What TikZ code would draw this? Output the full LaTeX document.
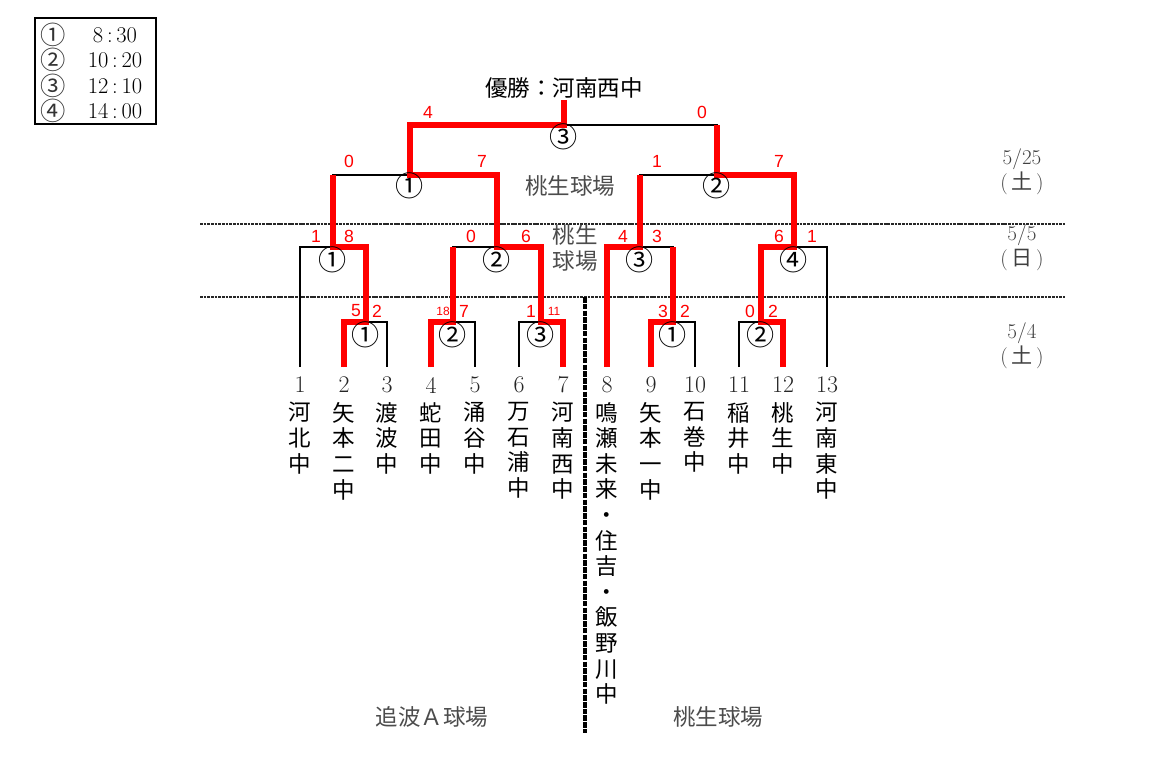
\documentclass[tikz,border=0pt]{standalone}
\usepackage{fontspec}
\newfontfamily\jpfont{Noto Sans CJK JP}
\newfontfamily\scorefont{Liberation Sans}
\usetikzlibrary{calc}

\tikzset{
  lose/.style={line width=2pt, black},
  win/.style={line width=3.6pt, red},
  dayline/.style={line width=1.6pt, dash pattern=on 2pt off 0.6pt, black!85},
  fieldline/.style={line width=2.4pt, dash pattern=on 4pt off 0.8pt},
}

\begin{document}
\begin{tikzpicture}[x=0.025cm, y=-0.025cm,
  team/.style={font=\jpfont\fontsize{16}{18.2}\selectfont, align=center, anchor=north, inner sep=0pt},
  num/.style={font=\fontsize{17}{17}\selectfont, inner sep=0pt, text=black!85},
  rnd/.style={font=\jpfont\fontsize{20}{20}\selectfont, inner sep=0pt},
  score/.style={font=\scorefont\fontsize{12.5}{13}\selectfont, text=red, inner sep=0pt},
  small score/.style={score, font=\scorefont\fontsize{8.5}{9}\selectfont},
  venue/.style={font=\jpfont\fontsize{16}{18}\selectfont, text=black!70, inner sep=0pt, align=center},
  date/.style={font=\fontsize{15}{17.8}\selectfont, text=black!75, inner sep=0pt, align=center},
  legend/.style={font=\fontsize{16}{16}\selectfont, inner sep=0pt},
]
  \useasboundingbox (0,0) rectangle (1161,777);

  % legend
  \draw[line width=0.8pt] (35,18) rectangle (156,124);
  \node[legend, font=\jpfont\fontsize{18}{18}\selectfont, text=black!80] (lg1) at (53,35) {①};
  \node[legend, font=\jpfont\fontsize{18}{18}\selectfont, text=black!80] (lg2) at (53,60) {②};
  \node[legend, font=\jpfont\fontsize{18}{18}\selectfont, text=black!80] (lg3) at (53,86) {③};
  \node[legend, font=\jpfont\fontsize{18}{18}\selectfont, text=black!80] (lg4) at (53,111) {④};
  \node[legend] (tm1) at (115,35) {8\,:\,30};
  \node[legend] (tm2) at (115,60) {10\,:\,20};
  \node[legend] (tm3) at (115,86) {12\,:\,10};
  \node[legend] (tm4) at (115,111) {14\,:\,00};

  % day separators
  \draw[dayline] (200,224) -- (1065,224);
  \draw[dayline] (200,297) -- (1065,297);
  \draw[fieldline] (585,297) -- (585,733);

  % leaves
  \coordinate (t1) at (300,367);
  \coordinate (t2) at (344,367);
  \coordinate (t3) at (387,367);
  \coordinate (t4) at (431,367);
  \coordinate (t5) at (475,367);
  \coordinate (t6) at (519,367);
  \coordinate (t7) at (563,367);
  \coordinate (t8) at (607,367);
  \coordinate (t9) at (651,367);
  \coordinate (t10) at (695,367);
  \coordinate (t11) at (739,367);
  \coordinate (t12) at (783,367);
  \coordinate (t13) at (827,367);
  % junctions
  \coordinate (a1) at (366,322);
  \coordinate (a2) at (453,322);
  \coordinate (a3) at (541,322);
  \coordinate (b1) at (673,322);
  \coordinate (b2) at (761,322);
  \coordinate (c1) at (333,247);
  \coordinate (c2) at (497,247);
  \coordinate (c3) at (640,247);
  \coordinate (c4) at (794,247);
  \coordinate (d1) at (410,175);
  \coordinate (d2) at (717,175);
  \coordinate (f) at (564,125);
  \coordinate (champ) at (564,100);

  % bracket
  \draw[lose] (t2) |- (a1) -| (t3);
  \draw[lose] (t4) |- (a2) -| (t5);
  \draw[lose] (t6) |- (a3) -| (t7);
  \draw[lose] (t9) |- (b1) -| (t10);
  \draw[lose] (t11) |- (b2) -| (t12);
  \draw[lose] (t1) |- (c1) -| (a1);
  \draw[lose] (a2) |- (c2) -| (a3);
  \draw[lose] (t8) |- (c3) -| (b1);
  \draw[lose] (b2) |- (c4) -| (t13);
  \draw[lose] (c1) |- (d1) -| (c2);
  \draw[lose] (c3) |- (d2) -| (c4);
  \draw[lose] (d1) |- (f) -| (d2);

  % winners
  \draw[win] (t2) |- (a1) -- (a1 |- c1);
  \draw[win] (t4) |- (a2) -- (a2 |- c2);
  \draw[win] (t7) |- (a3) -- (a3 |- c2);
  \draw[win] (t9) |- (b1) -- (b1 |- c3);
  \draw[win] (t12) |- (b2) -- (b2 |- c4);
  \draw[win] (a1) |- (c1) -- (c1 |- d1);
  \draw[win] (a3) |- (c2) -- (c2 |- d1);
  \draw[win] (t8) |- (c3) -- (c3 |- d2);
  \draw[win] (b2) |- (c4) -- (c4 |- d2);
  \draw[win] (c2) |- (d1) -- (d1 |- f);
  \draw[win] (c4) |- (d2) -- (d2 |- f);
  \draw[win] (d1) |- (f) -- (champ);

  % game numbers
  \node[rnd] (ra1) at ($(a1)+(0,13)$) {①};
  \node[rnd] (ra2) at ($(a2)+(0,13)$) {②};
  \node[rnd] (ra3) at ($(a3)+(0,13)$) {③};
  \node[rnd] (rb1) at ($(b1)+(0,13)$) {①};
  \node[rnd] (rb2) at ($(b2)+(0,13)$) {②};
  \node[rnd] (rc1) at ($(c1)+(0,13)$) {①};
  \node[rnd] (rc2) at ($(c2)+(0,13)$) {②};
  \node[rnd] (rc3) at ($(c3)+(0,13)$) {③};
  \node[rnd] (rc4) at ($(c4)+(0,13)$) {④};
  \node[rnd] (rd1) at ($(d1)+(0,11)$) {①};
  \node[rnd] (rd2) at ($(d2)+(0,11)$) {②};
  \node[rnd] (rf) at ($(f)+(0,12)$) {③};

  % scores
  \node[score] (sfl) at (428,112) {4};
  \node[score] (sfr) at (702,112) {0};
  \node[score] (sd1l) at (349,161) {0};
  \node[score] (sd1r) at (482,161) {7};
  \node[score] (sd2l) at (657,161) {1};
  \node[score] (sd2r) at (779,161) {7};
  \node[score] (sc1l) at (316,236) {1};
  \node[score] (sc1r) at (349,236) {8};
  \node[score] (sc2l) at (471,236) {0};
  \node[score] (sc2r) at (526,236) {6};
  \node[score] (sc3l) at (623,236) {4};
  \node[score] (sc3r) at (657,236) {3};
  \node[score] (sc4l) at (779,236) {6};
  \node[score] (sc4r) at (812,236) {1};
  \node[score] (sa1l) at (356,311) {5};
  \node[score] (sa1r) at (377,311) {2};
  \node[small score] (sa2l) at (443,311) {18};
  \node[score] (sa2r) at (464,311) {7};
  \node[score] (sa3l) at (531,311) {1};
  \node[small score] (sa3r) at (554,311) {11};
  \node[score] (sb1l) at (663,311) {3};
  \node[score] (sb1r) at (685,311) {2};
  \node[score] (sb2l) at (750,311) {0};
  \node[score] (sb2r) at (773,311) {2};

  % title, venues, dates
  \node[font=\jpfont\fontsize{16}{16}\selectfont, inner sep=0pt] (title) at (564,88) {優勝：河南西中};
  \node[venue] (v3) at (570,186) {桃生球場};
  \node[venue] (v2) at (575,248) {桃生\\球場};
  \node[venue] (v1l) at (432,717) {追波Ａ球場};
  \node[venue] (v1r) at (718,717) {桃生球場};
  \node[date] (day3) at (1022,172) {5/25\\(\,{\jpfont 土}\,)};
  \node[date] (day2) at (1022,248) {5/5\\(\,{\jpfont 日}\,)};
  \node[date] (day1) at (1022,346) {5/4\\(\,{\jpfont 土}\,)};

  % teams
  \node[num] (n1) at (300,385) {1};
  \node[num] (n2) at (344,385) {2};
  \node[num] (n3) at (387,385) {3};
  \node[num] (n4) at (431,385) {4};
  \node[num] (n5) at (475,385) {5};
  \node[num] (n6) at (519,385) {6};
  \node[num] (n7) at (563,385) {7};
  \node[num] (n8) at (607,385) {8};
  \node[num] (n9) at (651,385) {9};
  \node[num] (n10) at (695,385) {10};
  \node[num] (n11) at (739,385) {11};
  \node[num] (n12) at (783,385) {12};
  \node[num] (n13) at (827,385) {13};
  \node[team] (s1) at (300,402) {河\\北\\中};
  \node[team] (s2) at (344,402) {矢\\本\\二\\中};
  \node[team] (s3) at (387,402) {渡\\波\\中};
  \node[team] (s4) at (431,402) {蛇\\田\\中};
  \node[team] (s5) at (475,402) {涌\\谷\\中};
  \node[team] (s6) at (519,402) {万\\石\\浦\\中};
  \node[team] (s7) at (563,402) {河\\南\\西\\中};
  \node[team] (s8) at (607,402) {鳴\\瀬\\未\\来\\・\\住\\吉\\・\\飯\\野\\川\\中};
  \node[team] (s9) at (651,402) {矢\\本\\一\\中};
  \node[team] (s10) at (695,402) {石\\巻\\中};
  \node[team] (s11) at (739,402) {稲\\井\\中};
  \node[team] (s12) at (783,402) {桃\\生\\中};
  \node[team] (s13) at (827,402) {河\\南\\東\\中};
\end{tikzpicture}
\end{document}
